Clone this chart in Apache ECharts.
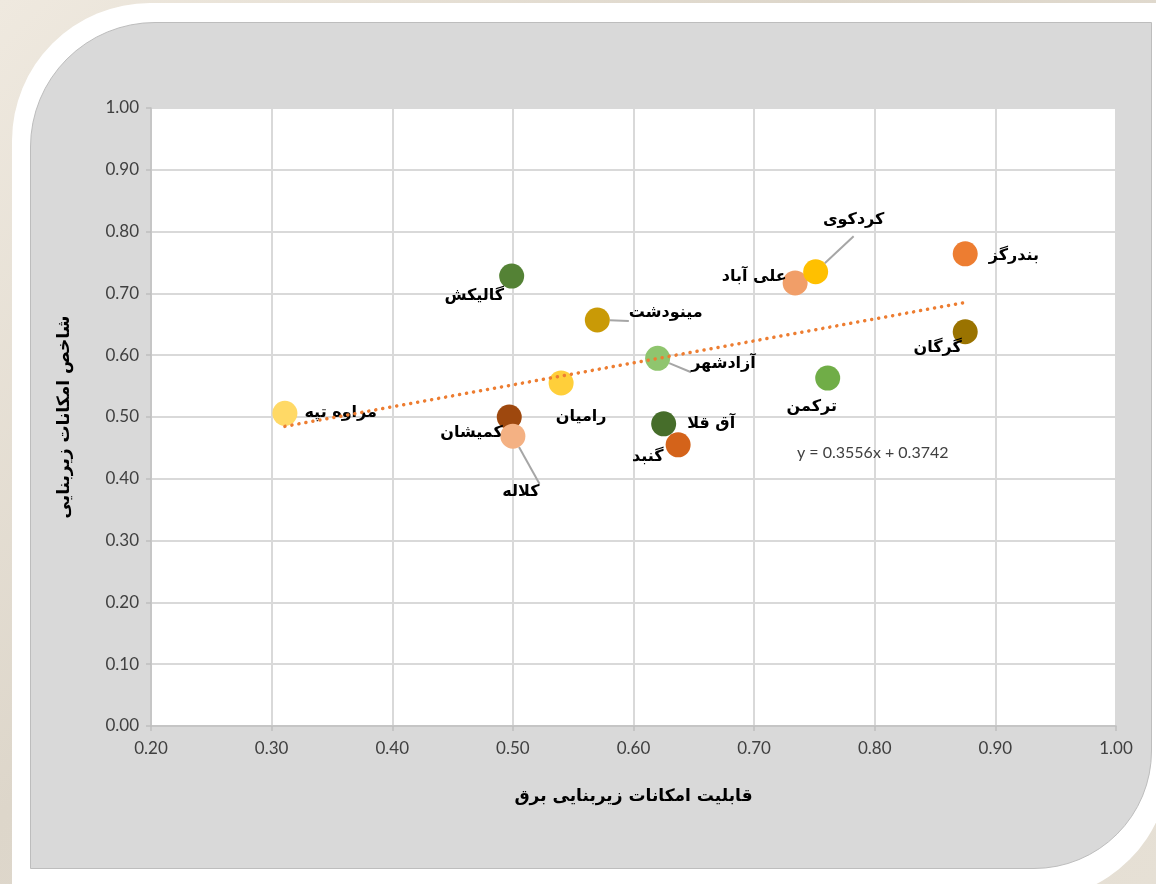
<!DOCTYPE html>
<html>
<head>
<meta charset="utf-8">
<script src="https://cdn.jsdelivr.net/npm/echarts@6/dist/echarts.min.js"></script>
<style>
  html, body { margin: 0; padding: 0; }
  body {
    width: 1156px; height: 884px; overflow: hidden; position: relative;
    background: linear-gradient(135deg, #efe9df 0%, #ddd6ca 40%, #e6e0d5 100%);
  }
  #frame {
    position: absolute; left: 12px; top: 3px; width: 1158px; height: 897px;
    background: #fff; border-radius: 138px 0 138px 0;
  }
  #panel {
    position: absolute; left: 30px; top: 22px; width: 1120px; height: 845px;
    background: #d9d9d9; border: 1px solid #bdbdbd; border-radius: 125px 0 118px 0;
  }
  #chart { position: absolute; left: 0; top: 0; width: 1156px; height: 884px; }
</style>
</head>
<body>
<div id="frame"></div>
<div id="panel"></div>
<div id="chart"></div>
<script>
// data
const cities = ['مراوه تپه', 'کمیشان', 'کلاله', 'رامیان', 'مینودشت', 'گالیکش', 'آزادشهر',
  'آق قلا', 'گنبد', 'علی آباد', 'کردکوی', 'ترکمن', 'بندرگز', 'گرگان'];
const electricity = [0.311, 0.497, 0.500, 0.540, 0.570, 0.499, 0.620,
  0.625, 0.637, 0.734, 0.751, 0.761, 0.875, 0.875];
const infraIndex = [0.506, 0.500, 0.469, 0.555, 0.657, 0.728, 0.595,
  0.489, 0.455, 0.717, 0.735, 0.563, 0.764, 0.638];
const trendSlope = 0.3556;
const trendIntercept = 0.3742;
const xTicks = [0.2, 1.0, 0.1];
const yTicks = [0, 1.0, 0.1];

// styles
const pointColors = ['#FFD966', '#9E480E', '#F4B183', '#FFCF3A', '#C99A06', '#548235', '#8FC56E',
  '#466D2A', '#D4631A', '#F19E68', '#FFC000', '#70AD47', '#ED7D31', '#9A7300'];
// label placement: [position, dx, dy, leader line]
const labelPlace = [
  ['right', 2, 0, false],
  ['left', 11, 16, false],
  ['bottom', 8, 30, true],
  ['bottom', 20, 8, false],
  ['right', 14, -7, true],
  ['left', 10, 20, false],
  ['right', 16, 6, true],
  ['right', 6, 0, false],
  ['left', 3, 12, false],
  ['left', 9, -6, false],
  ['top', 38, -26, true],
  ['bottom', -16, 3, false],
  ['right', 6, 2, false],
  ['left', 14, 16, false]
];

const persianFont = '"DejaVu Sans", "Noto Sans", sans-serif';
const numFont = 'Lato, "Open Sans", sans-serif';

const scatterData = cities.map((name, i) => {
  const p = labelPlace[i];
  return {
    name: name,
    value: [electricity[i], infraIndex[i]],
    itemStyle: { color: pointColors[i], opacity: 1 },
    label: { position: p[0], offset: [p[1], p[2]] },
    labelLine: { show: p[3] }
  };
});

const xMin = Math.min(...electricity), xMax = Math.max(...electricity);
const trendData = [
  [xMin, trendSlope * xMin + trendIntercept],
  [xMax, trendSlope * xMax + trendIntercept]
];

const chart = echarts.init(document.getElementById('chart'));
chart.setOption({
  animation: false,
  grid: {
    left: 151, right: 40, top: 108, bottom: 158,
    show: true, backgroundColor: '#fff', borderColor: '#5b9bd5', borderWidth: 1
  },
  xAxis: {
    type: 'value', min: xTicks[0], max: xTicks[1], interval: xTicks[2],
    name: 'قابلیت امکانات زیربنایی برق', nameLocation: 'middle', nameGap: 62,
    nameTextStyle: { fontFamily: persianFont, fontWeight: 'bold', fontSize: 17, color: '#000' },
    axisLine: { show: true, lineStyle: { color: '#bfbfbf', width: 1.5 } },
    axisTick: { show: true, length: 5, lineStyle: { color: '#bfbfbf', width: 1.5 } },
    axisLabel: { formatter: v => v.toFixed(2), color: '#404040', fontSize: 17, fontFamily: numFont, margin: 14 },
    splitLine: { lineStyle: { color: '#d9d9d9', width: 2 } }
  },
  yAxis: {
    type: 'value', min: yTicks[0], max: yTicks[1], interval: yTicks[2],
    name: 'شاخص امکانات زیربنایی', nameLocation: 'middle', nameGap: 78, nameRotate: 90,
    nameTextStyle: { fontFamily: persianFont, fontWeight: 'bold', fontSize: 17, color: '#000' },
    axisLine: { show: true, lineStyle: { color: '#bfbfbf', width: 1.5 } },
    axisTick: { show: true, length: 5, lineStyle: { color: '#bfbfbf', width: 1.5 } },
    axisLabel: { formatter: v => v.toFixed(2), color: '#404040', fontSize: 17, fontFamily: numFont, margin: 12 },
    splitLine: { lineStyle: { color: '#d9d9d9', width: 2 } }
  },
  series: [
    {
      type: 'scatter',
      symbolSize: 25,
      data: scatterData,
      label: {
        show: true, formatter: '{b}', distance: 5,
        fontFamily: persianFont, fontWeight: 'bold', fontSize: 16, color: '#000'
      },
      labelLine: { lineStyle: { color: '#a6a6a6', width: 2 } },
      z: 2
    },
    {
      type: 'line',
      data: trendData,
      symbol: 'none',
      lineStyle: { color: '#ED7D31', width: 3.5, type: [0.1, 7], cap: 'round' },
      z: 3,
      silent: true
    }
  ],
  graphic: [{
    type: 'text', left: 797, top: 445, z: 10,
    style: { text: 'y = 0.3556x + 0.3742', fontFamily: numFont, fontSize: 16, fill: '#404040' }
  }]
});
</script>
</body>
</html>
